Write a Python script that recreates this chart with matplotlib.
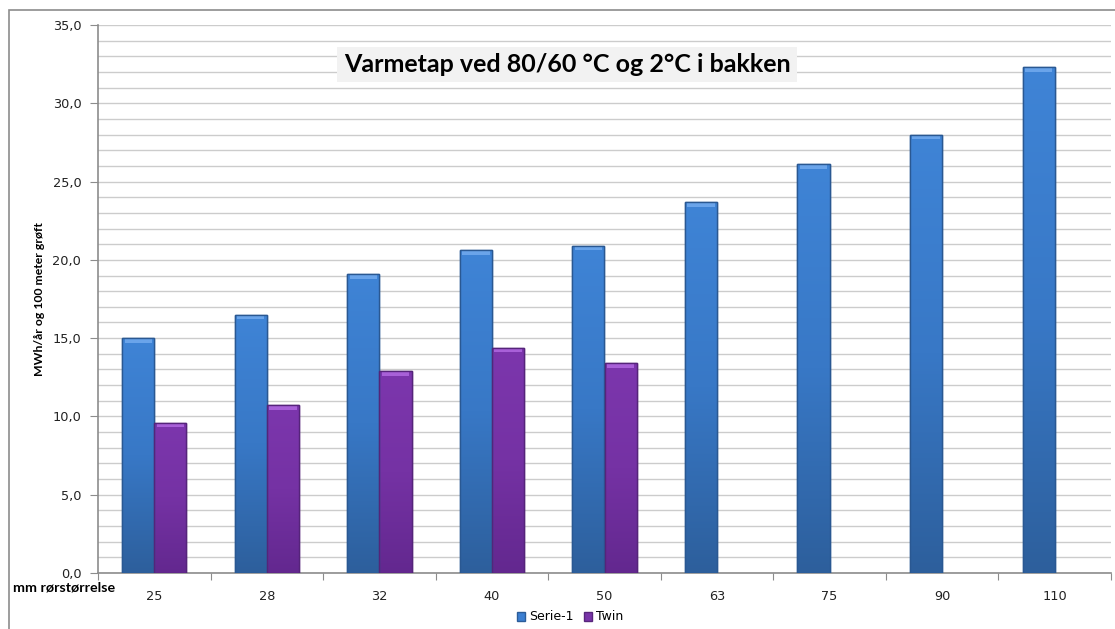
import matplotlib
matplotlib.use("Agg")
import matplotlib.pyplot as plt
import numpy as np
from matplotlib.patches import Rectangle
from matplotlib.colors import LinearSegmentedColormap

categories = ["25", "28", "32", "40", "50", "63", "75", "90", "110"]
serie1 = [15.0, 16.5, 19.1, 20.6, 20.9, 23.7, 26.1, 28.0, 32.3]
twin = [9.6, 10.7, 12.9, 14.4, 13.4]
title = "Varmetap ved 80/60 °C og 2°C i bakken"
ylabel = "MWh/år og 100 meter grøft"
xlabel = "mm rørstørrelse"

W, H = 1115, 629
fig = plt.figure(figsize=(W / 100, H / 100), dpi=100)
fig.patch.set_facecolor("white")

# outer border (cut off at right and bottom)
fig.add_artist(Rectangle((9 / W, -0.2), 1.2, (H - 10) / H + 0.2, transform=fig.transFigure,
                         fill=False, edgecolor="#8c8c8c", linewidth=1.2))

ax = fig.add_axes([98 / W, (H - 573) / H, (1111 - 98) / W, (573 - 25) / H])

bw = 1 / 3.5
x = np.arange(len(categories)) + 0.5
b1 = ax.bar(x - bw / 2, serie1, width=bw, color="#3c7fd2", edgecolor="#2c5d99",
            linewidth=1.0, zorder=3, label="Serie-1")
b2 = ax.bar(x[:len(twin)] + bw / 2, twin, width=bw, color="#7934a9", edgecolor="#58267c",
            linewidth=1.0, zorder=3, label="Twin")

cmap_b = LinearSegmentedColormap.from_list("b", ["#2d5f9c", "#3878c6", "#3f84d6"])
cmap_p = LinearSegmentedColormap.from_list("p", ["#63288f", "#7532a4", "#7c36ad"])
grad = np.linspace(0, 1, 256).reshape(-1, 1)
for bars, cm in ((b1, cmap_b), (b2, cmap_p)):
    for r in bars:
        x0, y0 = r.get_x(), r.get_y()
        w, h = r.get_width(), r.get_height()
        im = ax.imshow(grad, cmap=cm, origin="lower", aspect="auto",
                       extent=(x0, x0 + w, y0, y0 + h), zorder=3.5)
        im.set_clip_path(r)
# light top bevel
ax.bar(x - bw / 2, [0.3] * len(serie1), bottom=np.array(serie1) - 0.3, width=bw * 0.85,
       color="#6aa4ea", linewidth=0, zorder=4)
ax.bar(x[:len(twin)] + bw / 2, [0.3] * len(twin), bottom=np.array(twin) - 0.3, width=bw * 0.85,
       color="#a860d8", linewidth=0, zorder=4)
# outlines on top
ax.bar(x - bw / 2, serie1, width=bw, fill=False, edgecolor="#2a5892", linewidth=1.0, zorder=4.5)
ax.bar(x[:len(twin)] + bw / 2, twin, width=bw, fill=False, edgecolor="#55247a",
       linewidth=1.0, zorder=4.5)
ax.set_xlim(0, len(categories))
ax.set_ylim(0, 35)

ax.set_yticks(np.arange(0, 36, 5))
ax.set_yticks(np.arange(0, 36, 1), minor=True)
ax.set_yticklabels([f"{v:.1f}".replace(".", ",") for v in np.arange(0, 36, 5)])
ax.yaxis.grid(True, which="both", color="#cccccc", linewidth=1.0, zorder=0)
ax.tick_params(axis="y", which="major", length=6, direction="out", color="#8c8c8c",
               labelsize=9.3, labelcolor="#222222", pad=6)
ax.tick_params(axis="y", which="minor", length=0)
ax.set_xticks(np.arange(0, len(categories) + 1))
ax.set_xticklabels([])
ax.set_xticks(x, minor=True)
ax.set_xticklabels(categories, minor=True)
ax.tick_params(axis="x", which="major", length=5, direction="out", color="#8c8c8c")
ax.tick_params(axis="x", which="minor", length=0, labelsize=9.3, labelcolor="#222222", pad=12)

for s in ["top", "right"]:
    ax.spines[s].set_visible(False)
ax.spines["left"].set_color("#8c8c8c")
ax.spines["bottom"].set_color("#8c8c8c")
ax.spines["left"].set_linewidth(1.2)
ax.spines["bottom"].set_linewidth(1.2)

ax.text(0.463, 0.928, title, transform=ax.transAxes, ha="center", va="center",
        fontsize=18, fontweight="bold", family="Lato", color="black",
        bbox=dict(boxstyle="square,pad=0.25", facecolor="#f2f2f2", edgecolor="none"), zorder=6)

fig.text(40 / W, 1 - 299 / H, ylabel, rotation=90, ha="center", va="center",
         fontsize=8.8, fontweight="bold", family="Lato")
fig.text(13 / W, 1 - 588 / H, xlabel, ha="left", va="center",
         fontsize=10.3, fontweight="bold", family="Lato")

fig.legend(handles=[b1, b2], loc="center", bbox_to_anchor=(570 / W, 1 - 617 / H), ncol=2,
           frameon=False, fontsize=9, handlelength=0.7, handleheight=0.7,
           handletextpad=0.3, columnspacing=0.8)

fig.savefig("out.png", dpi=100)
